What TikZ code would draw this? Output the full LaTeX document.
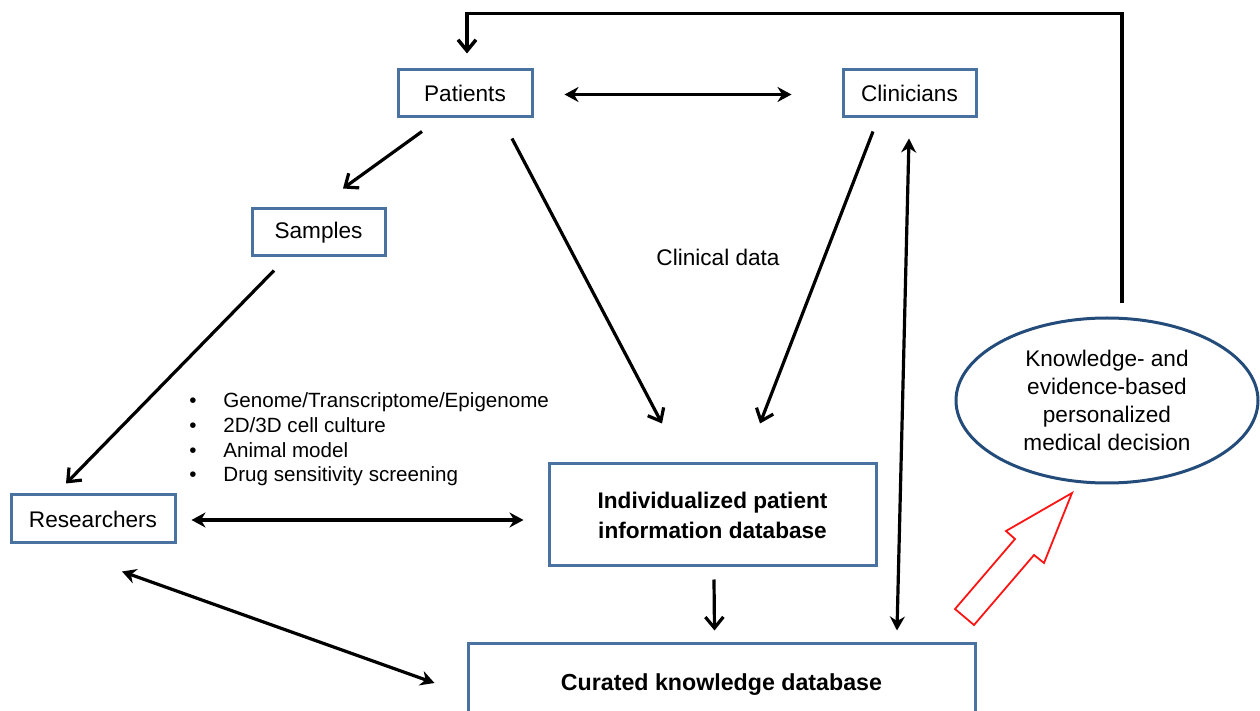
\documentclass[tikz,border=0pt]{standalone}
\usepackage{fontspec}
\setmainfont{Liberation Sans}
\usepackage{tikz}
\usetikzlibrary{arrows.meta, calc, shapes.geometric}
\definecolor{boxblue}{RGB}{74, 114, 160}
\definecolor{darkblue}{RGB}{36, 76, 122}
\definecolor{hollowred}{RGB}{255, 20, 20}
\tikzset{
  box/.style={draw=boxblue, line width=1.5pt, fill=white, inner sep=0pt,
              align=center, font=\fontsize{11.3}{15}\selectfont},
  decision/.style={ellipse, draw=darkblue, line width=1.5pt, inner sep=0pt,
                   align=center, font=\fontsize{11.3}{14}\selectfont},
  link/.style={line width=1.6pt, -{Straight Barb[length=5.5pt, width=9pt]}},
  twoway/.style={line width=1.6pt,
                 {Stealth[length=7pt, width=7.5pt]}-{Stealth[length=7pt, width=7.5pt]}},
  feedback/.style={line width=1.75pt, -{Straight Barb[length=5.5pt, width=9pt]}}
}

\begin{document}
\begin{tikzpicture}[x=0.5pt, y=-0.5pt]
  % Frame (pixels of the original, y downwards)
  \useasboundingbox (0, 0) rectangle (1260, 711);
  \clip (0, 0) rectangle (1260, 711);

  % People
  \node[box, minimum width=67pt, minimum height=23.5pt] (pat) at (465, 93.5) {Patients};
  \node[box, minimum width=66.5pt, minimum height=23.5pt] (cli) at (909.5, 93.5) {Clinicians};
  \node[box, minimum width=66.5pt, minimum height=23.5pt] (sam) at (318.5, 232.5) {Samples};
  \node[box, minimum width=82pt, minimum height=24pt] (res) at (93, 519) {Researchers};

  % Databases
  \node[box, minimum width=163.5pt, minimum height=51pt, font=\fontsize{11.3}{15}\bfseries]
    (ind) at (712.5, 515) {Individualized patient\\information database};
  \node[box, minimum width=253.5pt, minimum height=42pt, font=\fontsize{11.6}{15}\bfseries]
    (cur) at (721.5, 685) {Curated knowledge database};

  \node[decision, minimum width=151pt, minimum height=82.5pt] (dec) at (1107, 400.5)
    {Knowledge- and\\evidence-based\\personalized\\medical decision};

  % Labels
  \node[font=\fontsize{11.3}{14}\selectfont] (clin) at (718, 257) {Clinical data};
  \node[anchor=west, inner sep=0pt, align=left, font=\fontsize{10.3}{12.3}\selectfont]
    (omics) at (189, 439.5)
    {\makebox[17pt][l]{\textbullet}Genome/Transcriptome/Epigenome\\
     \makebox[17pt][l]{\textbullet}2D/3D cell culture\\
     \makebox[17pt][l]{\textbullet}Animal model\\
     \makebox[17pt][l]{\textbullet}Drug sensitivity screening};

  % Arrows
  \draw[twoway] ($(pat.east)+(31, 1)$) -- ($(cli.west)+(-50, 1)$);
  \draw[link] ($(pat.south)+(-43, 13)$) -- ($(sam.north)+(24.5, -19)$);
  \draw[link] ($(pat.south)+(47, 20)$) -- ($(ind.north)+(-50.5, -39)$);
  \draw[link] ($(cli.south)+(-36.5, 13)$) -- ($(ind.north)+(47.5, -39)$);
  \draw[twoway] ($(cli.south)+(-0.5, 20)$) -- ($(cur.north)+(175.5, -11)$);
  \draw[link] ($(sam.south)+(-44.5, 13)$) -- ($(res.north)+(-27, -10)$);
  \draw[twoway] ($(res.east)+(15, 1)$) -- ($(ind.west)+(-24, 5)$);
  \draw[link] ($(ind.south)+(1.5, 12)$) -- ($(cur.north)+(-7, -11)$);
  \draw[twoway] ($(res.south)+(29, 27)$) -- ($(cur.west)+(-32, -2)$);

  % Back to the patients
  \draw[feedback] ($(dec.north)+(15, -13)$) |- ($(pat.north)+(2, -55)$)
    -- ($(pat.north)+(2, -15)$);

  % Hollow red arrow
  \draw[hollowred, line width=0.9pt, line join=miter]
    (1072, 493) -- (1044, 563) -- (1034, 555) -- (974, 625)
    -- (955, 609) -- (1015, 539) -- (1006, 531) -- cycle;
\end{tikzpicture}
\end{document}
